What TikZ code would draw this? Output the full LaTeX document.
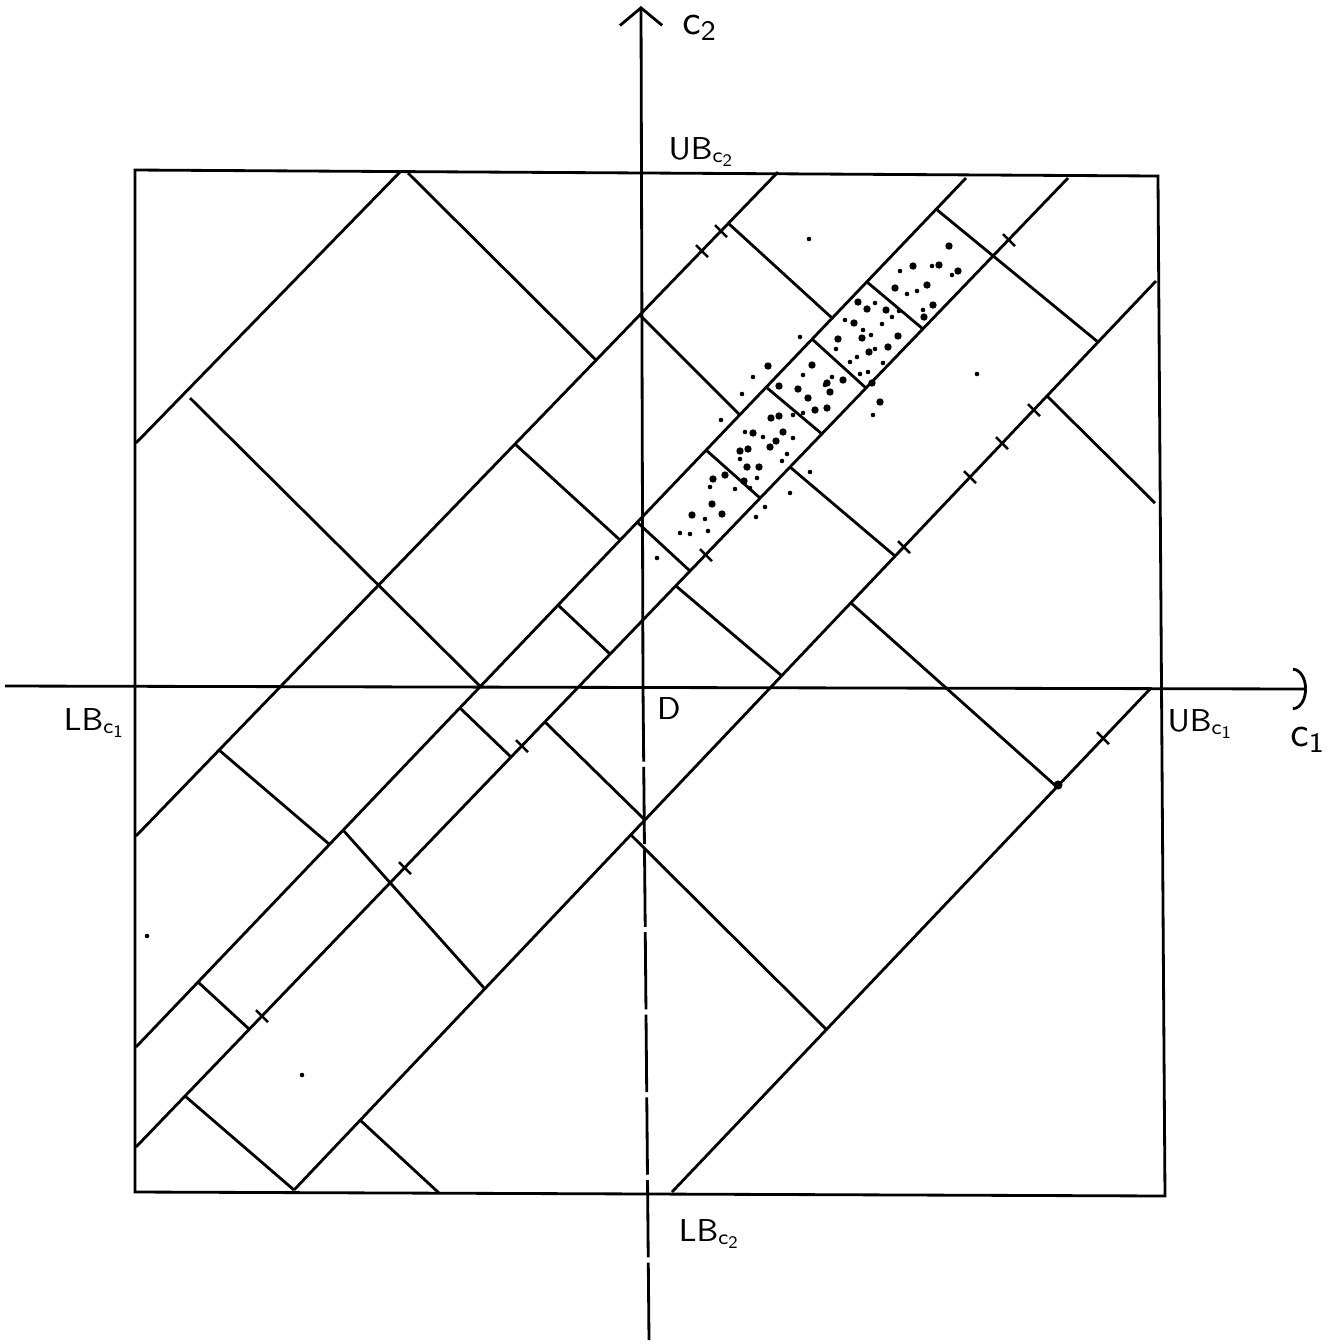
\documentclass[tikz,border=0pt]{standalone}
\usetikzlibrary{arrows.meta}
\begin{document}
\begin{tikzpicture}[x=0.01cm,y=-0.01cm,line width=0.8pt,
  lbl/.style={font=\sffamily\small,inner sep=1pt},
  axlbl/.style={font=\sffamily\large,inner sep=1pt},
  tick/.style={line width=0.7pt}]
  \useasboundingbox (0,0) rectangle (1336,1344);
  % bounds box and axes
  \draw (135,170) -- (1158,176) -- (1165,1196) -- (135,1192) -- cycle;
  \draw[-{Arc Barb[length=4pt,width=12pt]}] (5,686) -- (1307,689);
  \draw[dash pattern=on 22pt off 1.5pt] (649,1340) -- (643,686);
  \draw[-{Straight Barb[length=5pt,width=12pt]}] (643,686) -- (641,6);
  \node[axlbl] (C2) at (700,28) {$\mathsf{c}_{\mathsf{2}}$};
  \node[lbl] (UB2) at (702,152) {$\mathsf{UB}_{\mathsf{c}_{\mathsf{2}}}$};
  \node[lbl] (LB1) at (95,723) {$\mathsf{LB}_{\mathsf{c}_{\mathsf{1}}}$};
  \node[lbl] (D) at (669,708) {$\mathsf{D}$};
  \node[lbl] (UB1) at (1201,724) {$\mathsf{UB}_{\mathsf{c}_{\mathsf{1}}}$};
  \node[axlbl] (C1) at (1308,740) {$\mathsf{c}_{\mathsf{1}}$};
  \node[lbl] (LB2) at (710,1234) {$\mathsf{LB}_{\mathsf{c}_{\mathsf{2}}}$};
  % rising lines
  \draw (136,443) -- (400,172);
  \draw (136,836) -- (778,172);
  \draw (136,1047) -- (966,178);
  \draw (136,1147) -- (1068,178);
  \draw (294,1190) -- (1156,281);
  \draw (672,1192) -- (1150,689);
  % falling lines
  \draw (408,173) -- (596,360);
  \draw (190,398) -- (481,687);
  \draw (515,444) -- (620,540);
  \draw (558,605) -- (610,654);
  \draw (640,315) -- (740,415);
  \draw (728,223) -- (832,318);
  \draw (936,209) -- (1098,342);
  \draw (867,282) -- (923,329);
  \draw (812,339) -- (866,388);
  \draw (766,387) -- (822,434);
  \draw (706,450) -- (760,498);
  \draw (637,522) -- (690,571);
  \draw (676,586) -- (782,676);
  \draw (790,467) -- (895,556);
  \draw (460,708) -- (511,757);
  \draw (545,722) -- (645,820);
  \draw (631,835) -- (827,1030);
  \draw (851,603) -- (1057,787);
  \draw (1047,396) -- (1155,503);
  \draw (219,750) -- (329,844);
  \draw (343,830) -- (485,989);
  \draw (198,982) -- (249,1029);
  \draw (185,1096) -- (294,1190);
  \draw (360,1120) -- (439,1193);
  \foreach \x/\y in {721/231,702/251,1009/240,522/746,405/868,262/1016,706/555,1034/410,1002/443,970/477,904/547,1103/738}
    \draw[tick] (\x-6,\y-6) -- (\x+6,\y+6);
  \fill (1058,785) circle[radius=1.3pt];
  % sample points
  \foreach \x/\y in {768/366,812/365,779/386,798/389,827/383,815/410,827/408,771/418,779/416,753/433,783/432,776/441,740/451,748/449,770/447,747/467,759/467,725/475,713/479,744/481,712/504,722/514,692/515,949/246,913/266,939/265,958/271,895/288,927/285,933/305,924/317,858/302,867/309,886/310,898/336,888/347,862/338,838/339,854/323,869/352,872/383,880/402,843/380,830/392,808/398}
    \fill (\x,\y) circle[radius=1.05pt];
  \foreach \x/\y in {803/375,753/377,742/394,803/413,793/415,721/420,745/432,763/437,793/438,787/454,740/459,782/461,757/478,710/487,750/488,735/489,810/472,790/493,765/507,756/517,705/519,680/533,690/534,708/531,657/558,809/239,900/271,932/266,952/275,917/291,907/294,923/310,875/303,892/317,899/311,845/320,863/330,882/324,871/335,836/349,857/357,875/349,850/362,883/363,868/372,860/374,832/377,825/385,800/337,977/374,147/936,302/1075,873/415}
    \fill (\x,\y) circle[radius=0.65pt];
\end{tikzpicture}
\end{document}
